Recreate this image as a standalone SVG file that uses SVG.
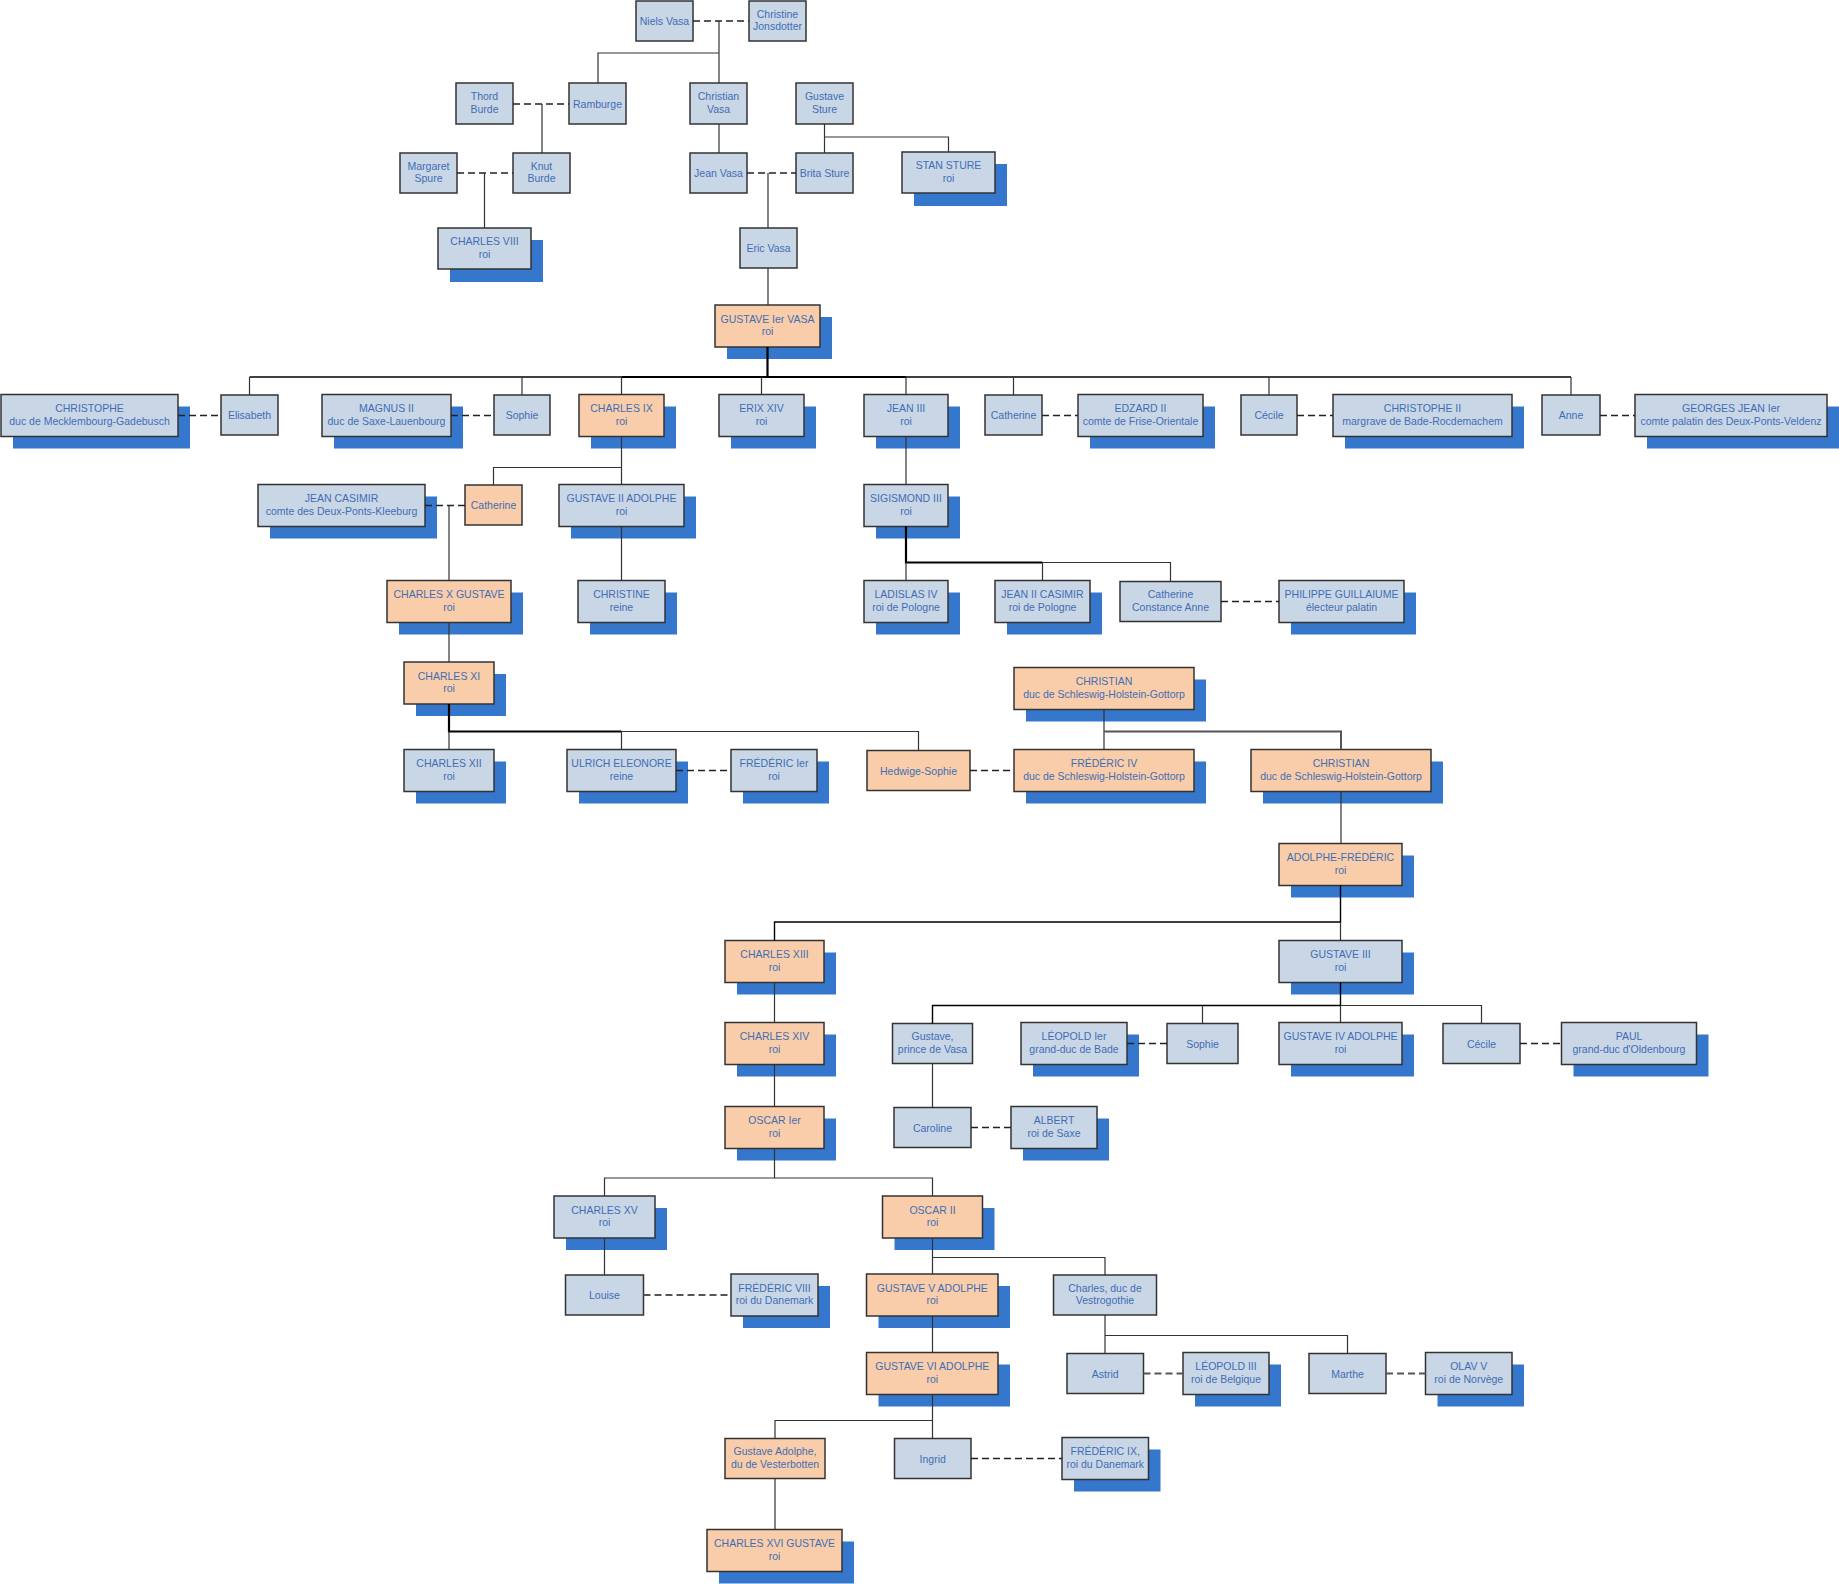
<svg xmlns="http://www.w3.org/2000/svg" width="1839" height="1584" viewBox="0 0 1839 1584">
<style>
.s{fill:#3577CC}
.b{fill:#C9D6E5;stroke:#333;stroke-width:1.5}
.o{fill:#F9CDA9;stroke:#333;stroke-width:1.5}
text{font-family:"Liberation Sans",Arial,sans-serif;font-size:10.5px;fill:#3F6DB5;text-anchor:middle}
.c{fill:none;stroke:#333;stroke-width:1.2}
.k{fill:none;stroke:#000;stroke-width:1.4}
.t{fill:none;stroke:#000;stroke-width:2.2}
.d{fill:none;stroke:#222;stroke-width:1.3;stroke-dasharray:7 4}
</style>
<rect width="1839" height="1584" fill="#fff"/>
<g id="nodes">
<g id="niels"><rect class="b" x="636" y="1" width="57" height="40"/><text x="664.5" y="25">Niels Vasa</text></g>
<g id="christine"><rect class="b" x="749" y="1" width="57" height="40"/><text x="777.5" y="17.5">Christine</text><text x="777.5" y="30">Jonsdotter</text></g>
<g id="thord"><rect class="b" x="456" y="83" width="57" height="41"/><text x="484.5" y="100">Thord</text><text x="484.5" y="112.5">Burde</text></g>
<g id="ramburge"><rect class="b" x="569" y="83" width="57" height="41"/><text x="597.5" y="107.5">Ramburge</text></g>
<g id="christianvasa"><rect class="b" x="690" y="83" width="57" height="41"/><text x="718.5" y="100">Christian</text><text x="718.5" y="112.5">Vasa</text></g>
<g id="gustavesture"><rect class="b" x="796" y="83" width="57" height="41"/><text x="824.5" y="100">Gustave</text><text x="824.5" y="112.5">Sture</text></g>
<g id="margaret"><rect class="b" x="400" y="153" width="57" height="40"/><text x="428.5" y="169.5">Margaret</text><text x="428.5" y="182">Spure</text></g>
<g id="knut"><rect class="b" x="513" y="153" width="57" height="40"/><text x="541.5" y="169.5">Knut</text><text x="541.5" y="182">Burde</text></g>
<g id="jeanvasa"><rect class="b" x="690" y="153" width="57" height="40"/><text x="718.5" y="177">Jean Vasa</text></g>
<g id="brita"><rect class="b" x="796" y="153" width="57" height="40"/><text x="824.5" y="177">Brita Sture</text></g>
<g id="stansture"><rect class="s" x="914" y="164" width="93" height="42"/><rect class="b" x="902" y="152" width="93" height="41"/><text x="948.5" y="169">STAN STURE</text><text x="948.5" y="181.5">roi</text></g>
<g id="charles8"><rect class="s" x="450" y="240" width="93" height="42"/><rect class="b" x="438" y="228" width="93" height="41"/><text x="484.5" y="245">CHARLES VIII</text><text x="484.5" y="257.5">roi</text></g>
<g id="ericvasa"><rect class="b" x="740" y="228" width="57" height="40"/><text x="768.5" y="252">Eric Vasa</text></g>
<g id="gustave1"><rect class="s" x="727" y="317" width="105" height="42"/><rect class="o" x="715" y="305" width="105" height="42"/><text x="767.5" y="322.5">GUSTAVE Ier VASA</text><text x="767.5" y="335">roi</text></g>

<g id="christophe"><rect class="s" x="13" y="406.5" width="177" height="42"/><rect class="b" x="1" y="394.5" width="177" height="42"/><text x="89.5" y="412">CHRISTOPHE</text><text x="89.5" y="424.5">duc de Mecklembourg-Gadebusch</text></g>
<g id="elisabeth"><rect class="b" x="221" y="395" width="57" height="40"/><text x="249.5" y="419">Elisabeth</text></g>
<g id="magnus"><rect class="s" x="334" y="406.5" width="129" height="42"/><rect class="b" x="322" y="394.5" width="129" height="42"/><text x="386.5" y="412">MAGNUS II</text><text x="386.5" y="424.5">duc de Saxe-Lauenbourg</text></g>
<g id="sophie1"><rect class="b" x="494" y="395" width="56" height="40"/><text x="522" y="419">Sophie</text></g>
<g id="charles9"><rect class="s" x="591" y="406.5" width="85" height="42"/><rect class="o" x="579" y="394.5" width="85" height="42"/><text x="621.5" y="412">CHARLES IX</text><text x="621.5" y="424.5">roi</text></g>
<g id="erix14"><rect class="s" x="731" y="406.5" width="85" height="42"/><rect class="b" x="719" y="394.5" width="85" height="42"/><text x="761.5" y="412">ERIX XIV</text><text x="761.5" y="424.5">roi</text></g>
<g id="jean3"><rect class="s" x="876" y="406.5" width="84" height="42"/><rect class="b" x="864" y="394.5" width="84" height="42"/><text x="906" y="412">JEAN III</text><text x="906" y="424.5">roi</text></g>
<g id="catherine1"><rect class="b" x="985" y="395" width="57" height="40"/><text x="1013.5" y="419">Catherine</text></g>
<g id="edzard"><rect class="s" x="1090" y="406.5" width="125" height="42"/><rect class="b" x="1078" y="394.5" width="125" height="42"/><text x="1140.5" y="412">EDZARD II</text><text x="1140.5" y="424.5">comte de Frise-Orientale</text></g>
<g id="cecile1"><rect class="b" x="1241" y="395" width="56" height="40"/><text x="1269" y="419">Cécile</text></g>
<g id="christophe2"><rect class="s" x="1345" y="406.5" width="179" height="42"/><rect class="b" x="1333" y="394.5" width="179" height="42"/><text x="1422.5" y="412">CHRISTOPHE II</text><text x="1422.5" y="424.5">margrave de Bade-Rocdemachem</text></g>
<g id="anne"><rect class="b" x="1542" y="395" width="58" height="40"/><text x="1571" y="419">Anne</text></g>
<g id="georgesjean"><rect class="s" x="1647" y="406.5" width="192" height="42"/><rect class="b" x="1635" y="394.5" width="192" height="42"/><text x="1731" y="412">GEORGES JEAN Ier</text><text x="1731" y="424.5">comte palatin des Deux-Ponts-Veldenz</text></g>

<g id="jeancasimir"><rect class="s" x="270" y="496.5" width="167" height="42"/><rect class="b" x="258" y="484.5" width="167" height="42"/><text x="341.5" y="502">JEAN CASIMIR</text><text x="341.5" y="514.5">comte des Deux-Ponts-Kleeburg</text></g>
<g id="catherine2"><rect class="o" x="465" y="485" width="57" height="40"/><text x="493.5" y="509">Catherine</text></g>
<g id="gustave2"><rect class="s" x="571" y="496.5" width="125" height="42"/><rect class="b" x="559" y="484.5" width="125" height="42"/><text x="621.5" y="502">GUSTAVE II ADOLPHE</text><text x="621.5" y="514.5">roi</text></g>
<g id="sigismond"><rect class="s" x="876" y="496.5" width="84" height="42"/><rect class="b" x="864" y="484.5" width="84" height="42"/><text x="906" y="502">SIGISMOND III</text><text x="906" y="514.5">roi</text></g>

<g id="charles10"><rect class="s" x="399" y="592.5" width="124" height="42"/><rect class="o" x="387" y="580.5" width="124" height="42"/><text x="449" y="598">CHARLES X GUSTAVE</text><text x="449" y="610.5">roi</text></g>
<g id="christinereine"><rect class="s" x="590" y="592.5" width="87" height="42"/><rect class="b" x="578" y="580.5" width="87" height="42"/><text x="621.5" y="598">CHRISTINE</text><text x="621.5" y="610.5">reine</text></g>
<g id="ladislas"><rect class="s" x="876" y="592.5" width="84" height="42"/><rect class="b" x="864" y="580.5" width="84" height="42"/><text x="906" y="598">LADISLAS IV</text><text x="906" y="610.5">roi de Pologne</text></g>
<g id="jean2casimir"><rect class="s" x="1007" y="592.5" width="95" height="42"/><rect class="b" x="995" y="580.5" width="95" height="42"/><text x="1042.5" y="598">JEAN II CASIMIR</text><text x="1042.5" y="610.5">roi de Pologne</text></g>
<g id="catherineca"><rect class="b" x="1120" y="581.5" width="101" height="40"/><text x="1170.5" y="598">Catherine</text><text x="1170.5" y="610.5">Constance Anne</text></g>
<g id="philippe"><rect class="s" x="1291" y="592.5" width="125" height="42"/><rect class="b" x="1279" y="580.5" width="125" height="42"/><text x="1341.5" y="598">PHILIPPE GUILLAIUME</text><text x="1341.5" y="610.5">électeur palatin</text></g>

<g id="charles11"><rect class="s" x="416" y="674" width="90" height="42"/><rect class="o" x="404" y="662" width="90" height="42"/><text x="449" y="679.5">CHARLES XI</text><text x="449" y="692">roi</text></g>
<g id="christiantop"><rect class="s" x="1026" y="679.5" width="180" height="42"/><rect class="o" x="1014" y="667.5" width="180" height="42"/><text x="1104" y="685">CHRISTIAN</text><text x="1104" y="697.5">duc de Schleswig-Holstein-Gottorp</text></g>

<g id="charles12"><rect class="s" x="416" y="761.5" width="90" height="42"/><rect class="b" x="404" y="749.5" width="90" height="42"/><text x="449" y="767">CHARLES XII</text><text x="449" y="779.5">roi</text></g>
<g id="ulrich"><rect class="s" x="579" y="761.5" width="109" height="42"/><rect class="b" x="567" y="749.5" width="109" height="42"/><text x="621.5" y="767">ULRICH ELEONORE</text><text x="621.5" y="779.5">reine</text></g>
<g id="frederic1"><rect class="s" x="743" y="761.5" width="86" height="42"/><rect class="b" x="731" y="749.5" width="86" height="42"/><text x="774" y="767">FRÉDÉRIC Ier</text><text x="774" y="779.5">roi</text></g>
<g id="hedwige"><rect class="o" x="867" y="750.5" width="103" height="40"/><text x="918.5" y="774.5">Hedwige-Sophie</text></g>
<g id="frederic4"><rect class="s" x="1026" y="761.5" width="180" height="42"/><rect class="o" x="1014" y="749.5" width="180" height="42"/><text x="1104" y="767">FRÉDÉRIC IV</text><text x="1104" y="779.5">duc de Schleswig-Holstein-Gottorp</text></g>
<g id="christianright"><rect class="s" x="1263" y="761.5" width="180" height="42"/><rect class="o" x="1251" y="749.5" width="180" height="42"/><text x="1341" y="767">CHRISTIAN</text><text x="1341" y="779.5">duc de Schleswig-Holstein-Gottorp</text></g>

<g id="adolphefrederic"><rect class="s" x="1291" y="855.5" width="123" height="42"/><rect class="o" x="1279" y="843.5" width="123" height="42"/><text x="1340.5" y="861">ADOLPHE-FRÉDÉRIC</text><text x="1340.5" y="873.5">roi</text></g>
<g id="charles13"><rect class="s" x="737" y="952.5" width="99" height="42"/><rect class="o" x="725" y="940.5" width="99" height="42"/><text x="774.5" y="958">CHARLES XIII</text><text x="774.5" y="970.5">roi</text></g>
<g id="gustave3"><rect class="s" x="1291" y="952.5" width="123" height="42"/><rect class="b" x="1279" y="940.5" width="123" height="42"/><text x="1340.5" y="958">GUSTAVE III</text><text x="1340.5" y="970.5">roi</text></g>

<g id="charles14"><rect class="s" x="737" y="1034.5" width="99" height="42"/><rect class="o" x="725" y="1022.5" width="99" height="42"/><text x="774.5" y="1040">CHARLES XIV</text><text x="774.5" y="1052.5">roi</text></g>
<g id="gustaveprince"><rect class="b" x="892.5" y="1023.5" width="80" height="40"/><text x="932.5" y="1040">Gustave,</text><text x="932.5" y="1052.5">prince de Vasa</text></g>
<g id="leopold1"><rect class="s" x="1033" y="1034.5" width="106" height="42"/><rect class="b" x="1021" y="1022.5" width="106" height="42"/><text x="1074" y="1040">LÉOPOLD Ier</text><text x="1074" y="1052.5">grand-duc de Bade</text></g>
<g id="sophie2"><rect class="b" x="1167" y="1023.5" width="71" height="40"/><text x="1202.5" y="1047.5">Sophie</text></g>
<g id="gustave4"><rect class="s" x="1291" y="1034.5" width="123" height="42"/><rect class="b" x="1279" y="1022.5" width="123" height="42"/><text x="1340.5" y="1040">GUSTAVE IV ADOLPHE</text><text x="1340.5" y="1052.5">roi</text></g>
<g id="cecile2"><rect class="b" x="1443" y="1023.5" width="77" height="40"/><text x="1481.5" y="1047.5">Cécile</text></g>
<g id="paul"><rect class="s" x="1573.5" y="1034.5" width="135" height="42"/><rect class="b" x="1561.5" y="1022.5" width="135" height="42"/><text x="1629" y="1040">PAUL</text><text x="1629" y="1052.5">grand-duc d'Oldenbourg</text></g>

<g id="oscar1"><rect class="s" x="737" y="1118.5" width="99" height="42"/><rect class="o" x="725" y="1106.5" width="99" height="42"/><text x="774.5" y="1124">OSCAR Ier</text><text x="774.5" y="1136.5">roi</text></g>
<g id="caroline"><rect class="b" x="894" y="1107.5" width="77" height="40"/><text x="932.5" y="1131.5">Caroline</text></g>
<g id="albert"><rect class="s" x="1023" y="1118.5" width="86" height="42"/><rect class="b" x="1011" y="1106.5" width="86" height="42"/><text x="1054" y="1124">ALBERT</text><text x="1054" y="1136.5">roi de Saxe</text></g>

<g id="charles15"><rect class="s" x="566" y="1208" width="101" height="42"/><rect class="b" x="554" y="1196" width="101" height="42"/><text x="604.5" y="1213.5">CHARLES XV</text><text x="604.5" y="1226">roi</text></g>
<g id="oscar2"><rect class="s" x="894.5" y="1208" width="100" height="42"/><rect class="o" x="882.5" y="1196" width="100" height="42"/><text x="932.5" y="1213.5">OSCAR II</text><text x="932.5" y="1226">roi</text></g>

<g id="louise"><rect class="b" x="565.5" y="1275" width="78" height="40"/><text x="604.5" y="1299">Louise</text></g>
<g id="frederic8"><rect class="s" x="743" y="1286" width="87" height="42"/><rect class="b" x="731" y="1274" width="87" height="42"/><text x="774.5" y="1291.5">FRÉDÉRIC VIII</text><text x="774.5" y="1304">roi du Danemark</text></g>
<g id="gustave5"><rect class="s" x="878.5" y="1286" width="131.5" height="42"/><rect class="o" x="866.5" y="1274" width="131.5" height="42"/><text x="932.25" y="1291.5">GUSTAVE V ADOLPHE</text><text x="932.25" y="1304">roi</text></g>
<g id="charlesduc"><rect class="b" x="1053.5" y="1275" width="103" height="40"/><text x="1105" y="1291.5">Charles, duc de</text><text x="1105" y="1304">Vestrogothie</text></g>

<g id="gustave6"><rect class="s" x="878.5" y="1364.5" width="131.5" height="42"/><rect class="o" x="866.5" y="1352.5" width="131.5" height="42"/><text x="932.25" y="1370">GUSTAVE VI ADOLPHE</text><text x="932.25" y="1382.5">roi</text></g>
<g id="astrid"><rect class="b" x="1067" y="1353.5" width="76.5" height="40"/><text x="1105.25" y="1377.5">Astrid</text></g>
<g id="leopold3"><rect class="s" x="1195" y="1364.5" width="86" height="42"/><rect class="b" x="1183" y="1352.5" width="86" height="42"/><text x="1226" y="1370">LÉOPOLD III</text><text x="1226" y="1382.5">roi de Belgique</text></g>
<g id="marthe"><rect class="b" x="1309" y="1353.5" width="77" height="40"/><text x="1347.5" y="1377.5">Marthe</text></g>
<g id="olav5"><rect class="s" x="1437.5" y="1364.5" width="86.5" height="42"/><rect class="b" x="1425.5" y="1352.5" width="86.5" height="42"/><text x="1468.75" y="1370">OLAV V</text><text x="1468.75" y="1382.5">roi de Norvège</text></g>

<g id="gustaveadolphe"><rect class="o" x="725" y="1438.5" width="100" height="40"/><text x="775" y="1455">Gustave Adolphe,</text><text x="775" y="1467.5">du de Vesterbotten</text></g>
<g id="ingrid"><rect class="b" x="894.5" y="1438.5" width="76.5" height="40"/><text x="932.75" y="1462.5">Ingrid</text></g>
<g id="frederic9"><rect class="s" x="1074" y="1449.5" width="86.5" height="42"/><rect class="b" x="1062" y="1437.5" width="86.5" height="42"/><text x="1105.25" y="1455">FRÉDÉRIC IX,</text><text x="1105.25" y="1467.5">roi du Danemark</text></g>
<g id="charles16"><rect class="s" x="719" y="1541.5" width="135" height="42"/><rect class="o" x="707" y="1529.5" width="135" height="42"/><text x="774.5" y="1547">CHARLES XVI GUSTAVE</text><text x="774.5" y="1559.5">roi</text></g>
</g>

<g id="connectors">
<path class="d" d="M693,21H749M513,104H569M457,173H513M747,173H796"/>
<path class="c" d="M719,21V83M719,53H598V83M542,104V153M484.5,173V228M719,124V153M824.5,124V153M824.5,137H948.5V152M768,173V228M768,268V305"/>
<path class="t" d="M767.5,347V377M621.5,377H906"/>
<path class="k" d="M249.5,377H1571"/>
<path class="c" d="M249.5,377V395M522,377V395M621.5,377V394.5M761.5,377V394.5M906,377V394.5M1013.5,377V395M1269,377V395M1571,377V395"/>
<path class="d" d="M178,415.5H221M451,415.5H494M1042,415.5H1078M1297,415.5H1333M1600,415.5H1635"/>
<path class="c" d="M621.5,436.5V484.5M621.5,467.5H493.5V485M621.5,526.5V580.5M906,436.5V484.5M449,505.5V580.5"/>
<path class="d" d="M425,505.5H465M1221,601.5H1279"/>
<path class="t" d="M906,526.5V562.5H1042.5"/>
<path class="c" d="M906,562.5V580.5M1042.5,562.5V580.5M1042.5,562.5H1170.5V581.5M449,622.5V662"/>
<path class="t" d="M449,704V731.5H621.5"/>
<path class="c" d="M621.5,731.5H918.5V750.5M449,731.5V749.5M621.5,731.5V749.5M1104,709.5V749.5M1341,791.5V843.5"/>
<path class="c" style="stroke:#555;stroke-width:2" d="M1104,731.5H1341V749.5"/>
<path class="d" d="M676,770.5H731M970,770.5H1014"/>
<path class="k" d="M1340.5,885.5V922H774.5V940.5"/>
<path class="c" d="M1340.5,922V940.5M774.5,982.5V1022.5M774.5,1064.5V1106.5"/>
<path class="k" d="M1340.5,982.5V1005.5H932.5V1023.5"/>
<path class="c" d="M1340.5,1005.5H1481.5V1023.5M1202.5,1005.5V1023.5M1340.5,1005.5V1022.5M932.5,1063.5V1107.5"/>
<path class="d" d="M1127,1043.5H1167M1520,1043.5H1561.5M971,1127.5H1011"/>
<path class="c" d="M774.5,1148.5V1178M604.5,1196V1178H932.5V1196M604.5,1238V1275M932.5,1238V1274M932.5,1257.5H1105V1275M932.5,1316V1352.5M1105,1315V1353.5M1105,1335.5H1347.5V1353.5M932.5,1394.5V1438.5M932.5,1420.5H775V1438.5M775,1478.5V1529.5"/>
<path class="d" style="stroke:#555;stroke-width:2" d="M643.5,1295H731M1143.5,1373.5H1183M1386,1373.5H1425.5"/>
<path class="d" d="M971,1458.5H1062"/>
</g>
</svg>
